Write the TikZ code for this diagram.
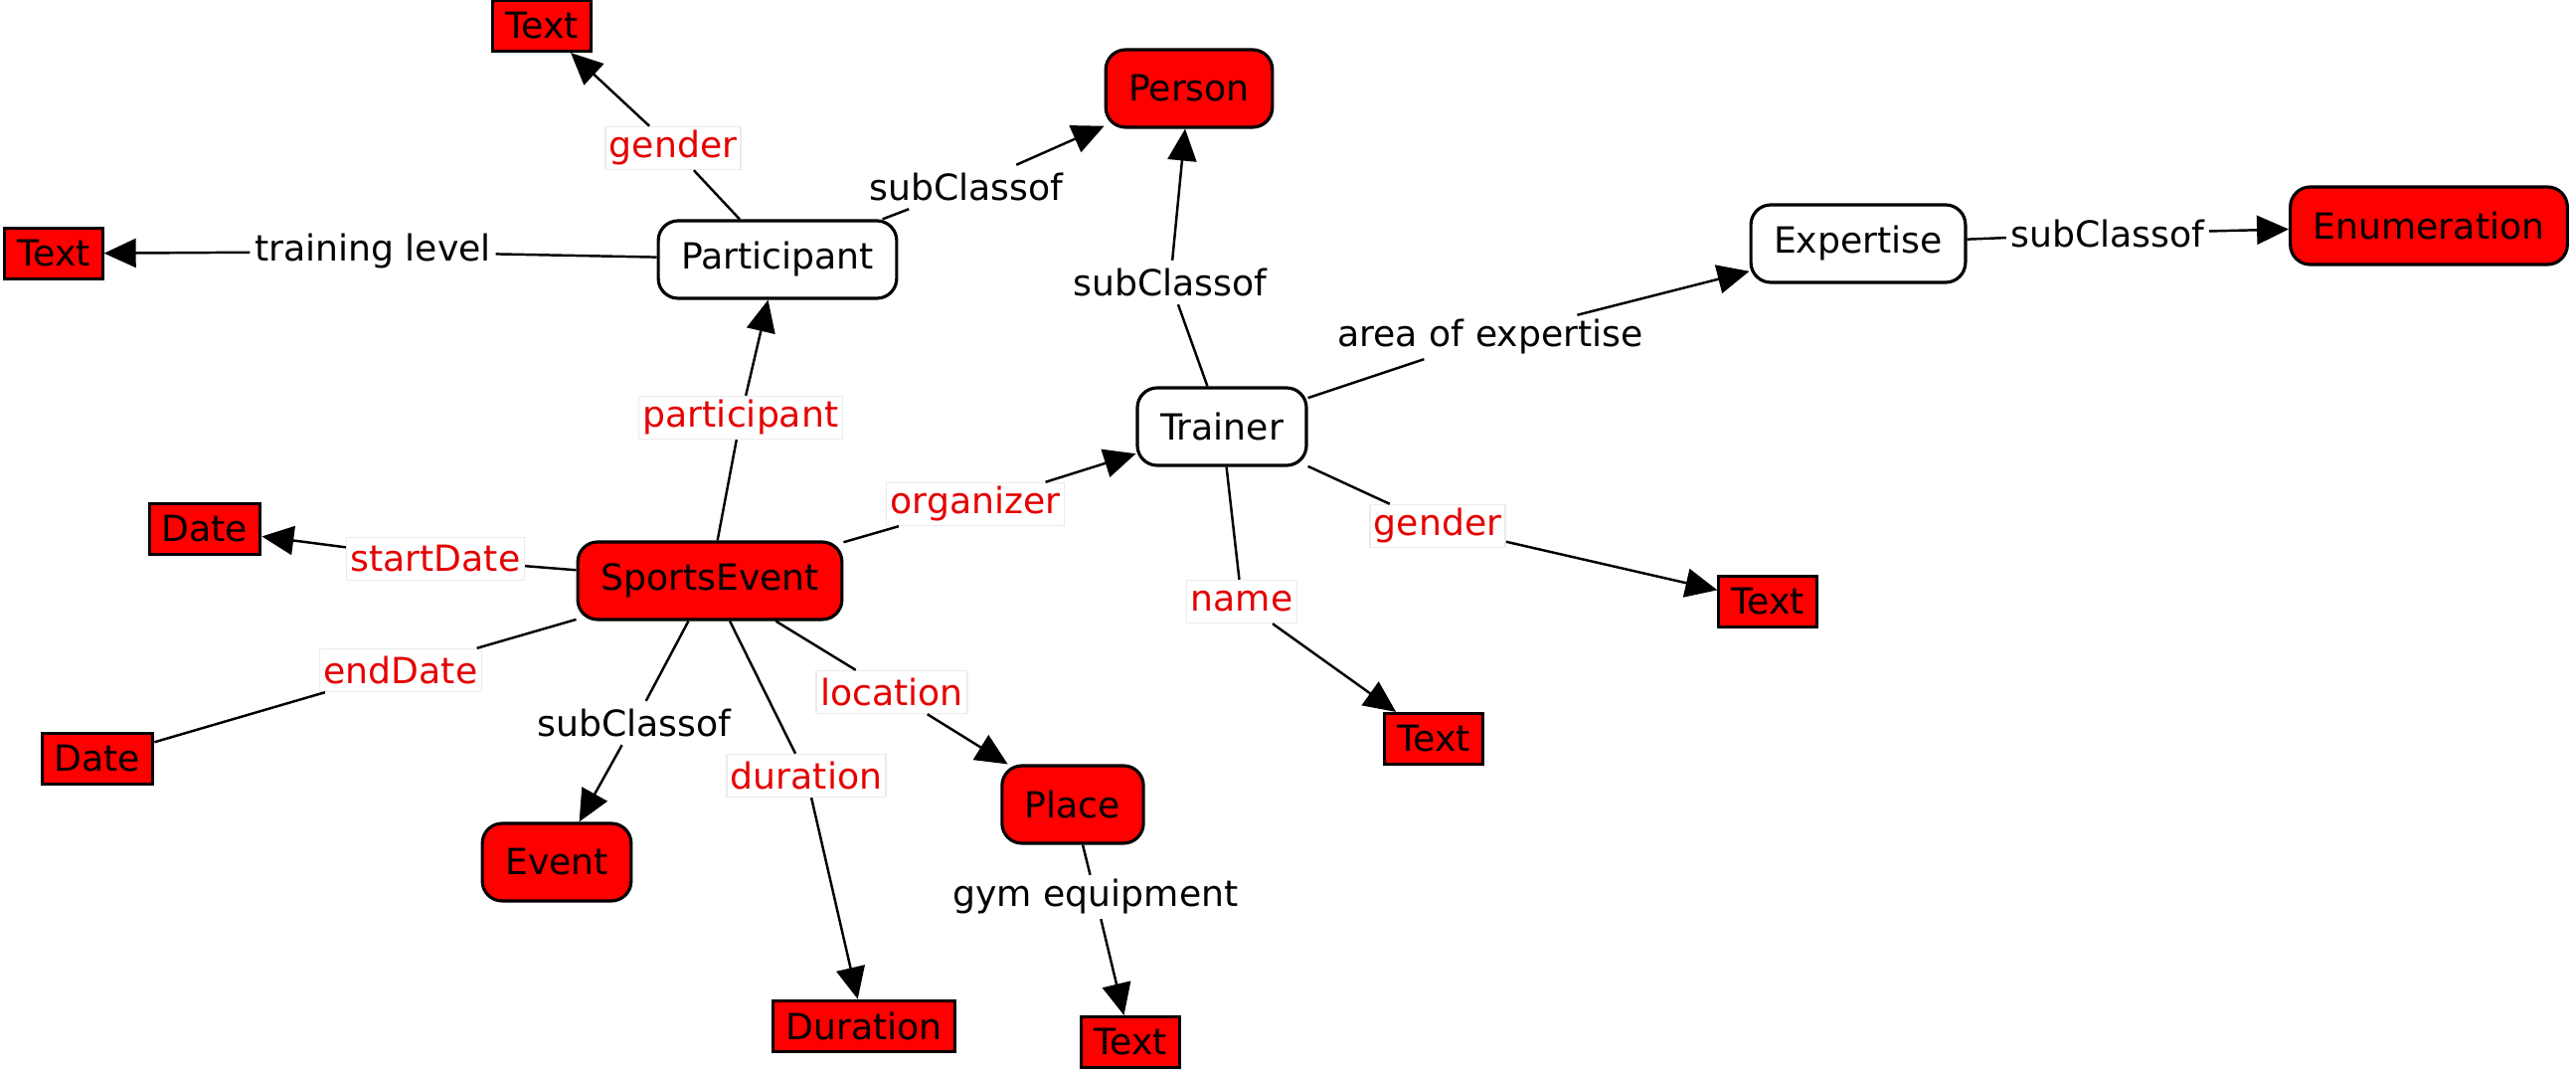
\documentclass[tikz,border=0pt]{standalone}
\usepackage{fontspec}
\setmainfont{DejaVu Sans}
\usetikzlibrary{shapes.geometric, arrows.meta}
\tikzstyle{concept} = [rectangle, rounded corners=2mm, minimum height=7.8mm, inner xsep=2.3mm, text centered, draw=black, line width=0.9pt, fill=white]
\tikzstyle{external} = [concept, fill=red]
\tikzstyle{literal} = [rectangle, minimum height=5.1mm, inner xsep=1.25mm, text centered, draw=black, line width=0.9pt, fill=red]
\tikzstyle{prop} = [rectangle, fill=white, draw=black!8, inner sep=0.4mm, minimum height=4.3mm, text=red!90!black]
\tikzstyle{rel} = [rectangle, fill=white, inner sep=0.4mm, minimum height=4.3mm]
\tikzstyle{flow} = [line width=0.7pt,-{Triangle[length=3.2mm,width=2.9mm]}]
\tikzstyle{link} = [line width=0.7pt,-]

\begin{document}
\begin{tikzpicture}[node distance=3.5cm, font=\fontsize{10.3}{12}\selectfont]
		\useasboundingbox (0,0) rectangle (25.91,-10.80);
		\node (evt) [external] at (7.14,-5.84) {SportsEvent};
		\node (part) [concept, above of=evt, xshift=0.68cm, yshift=-0.27cm] {Participant};
		\node (gtext) [literal, above of=part, xshift=-2.37cm, yshift=-1.15cm] {Text};
		\node (person) [external, right of=part, xshift=0.64cm, yshift=1.72cm] {Person};
		\node (tlev) [literal, left of=part, xshift=-3.78cm, yshift=0.06cm] {Text};
		\node (trainer) [concept, right of=evt, xshift=1.65cm, yshift=1.55cm] {Trainer};
		\node (exp) [concept, right of=trainer, xshift=2.90cm, yshift=1.84cm] {Expertise};
		\node (enum) [external, right of=exp, xshift=2.24cm, yshift=0.18cm] {Enumeration};
		\node (sdate) [literal, left of=evt, xshift=-1.58cm, yshift=0.52cm] {Date};
		\node (edate) [literal, below of=sdate, xshift=-1.08cm, yshift=1.19cm] {Date};
		\node (event) [external, below of=evt, xshift=-1.54cm, yshift=0.67cm] {Event};
		\node (dur) [literal, below of=evt, xshift=1.55cm, yshift=-0.98cm] {Duration};
		\node (place) [external, below of=trainer, xshift=-1.50cm, yshift=-0.30cm] {Place};
		\node (gymtext) [literal, below of=place, xshift=0.58cm, yshift=1.11cm] {Text};
		\node (nametext) [literal, below of=trainer, xshift=2.13cm, yshift=0.36cm] {Text};
		\node (tgtext) [literal, right of=trainer, xshift=1.99cm, yshift=-1.76cm] {Text};

		% edge labels
		\node (lgen1) [prop] at (6.77,-1.49) {gender};
		\node (lsub1) [rel] at (9.72,-1.88) {subClassof};
		\node (ltrain) [rel] at (3.75,-2.53) {training level};
		\node (lpart) [prop] at (7.45,-4.20) {participant};
		\node (lsub2) [rel] at (11.77,-2.84) {subClassof};
		\node (larea) [rel] at (14.99,-3.39) {area of expertise};
		\node (lsub3) [rel] at (21.20,-2.35) {subClassof};
		\node (lorg) [prop] at (9.81,-5.07) {organizer};
		\node (lstart) [prop] at (4.38,-5.62) {startDate};
		\node (lend) [prop] at (4.03,-6.74) {endDate};
		\node (lsub4) [rel] at (6.38,-7.27) {subClassof};
		\node (ldur) [prop] at (8.11,-7.80) {duration};
		\node (lloc) [prop] at (8.97,-6.96) {location};
		\node (lgym) [rel] at (11.02,-9.02) {gym equipment};
		\node (lname) [prop] at (12.49,-6.05) {name};
		\node (lgen2) [prop] at (14.46,-5.29) {gender};

		\draw [flow] (part) -- (lgen1) -- (gtext);
		\draw [flow] (part) -- (lsub1) -- (person);
		\draw [flow] (part) -- (ltrain) -- (tlev);
		\draw [flow] (evt) -- (lpart) -- (part);
		\draw [flow] (trainer) -- (lsub2) -- (person);
		\draw [flow] (trainer) -- (larea) -- (exp);
		\draw [flow] (exp) -- (lsub3) -- (enum);
		\draw [flow] (evt) -- (lorg) -- (trainer);
		\draw [flow] (evt) -- (lstart) -- (sdate);
		\draw [link] (evt) -- (lend) -- (edate);
		\draw [flow] (evt) -- (lsub4) -- (event);
		\draw [flow] (evt) -- (ldur) -- (dur);
		\draw [flow] (evt) -- (lloc) -- (place);
		\draw [flow] (place) -- (lgym) -- (gymtext);
		\draw [flow] (trainer) -- (lname) -- (nametext);
		\draw [flow] (trainer) -- (lgen2) -- (tgtext);
	  \end{tikzpicture}
\end{document}
